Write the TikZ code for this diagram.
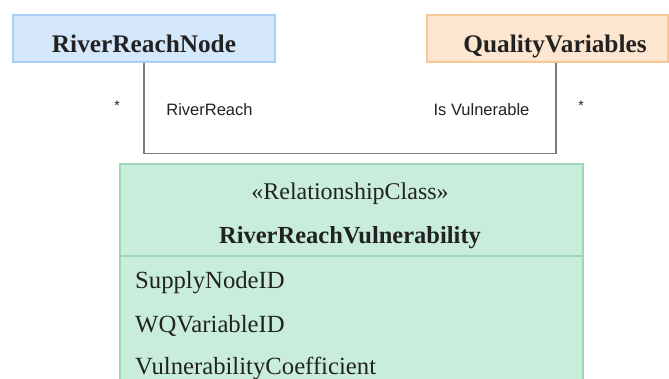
\documentclass[tikz,border=0pt]{standalone}
\usepackage{fontspec}
\newfontfamily\serf{Liberation Serif}
\newfontfamily\sanf{Liberation Sans}
\definecolor{bluefill}{HTML}{D5E7FB}
\definecolor{blueline}{HTML}{A9CDF3}
\definecolor{orfill}{HTML}{FDE6CF}
\definecolor{orline}{HTML}{F6C896}
\definecolor{grfill}{HTML}{C9EDDB}
\definecolor{grline}{HTML}{9FD6BA}
\definecolor{conn}{HTML}{7A7A7A}
\definecolor{ink}{HTML}{222222}
\begin{document}
\begin{tikzpicture}[x=1pt,y=-1pt,
  classbox/.style={draw, line width=1.4pt, inner sep=0pt},
  title/.style={font=\serf\bfseries\fontsize{24.5}{28}\selectfont, text=ink, anchor=base, inner sep=0pt},
  bigtitle/.style={title, font=\serf\bfseries\fontsize{25.3}{28}\selectfont},
  plain/.style={font=\serf\fontsize{24}{28}\selectfont, text=ink, anchor=base, inner sep=0pt},
  attr/.style={font=\serf\fontsize{24.7}{28}\selectfont, text=ink, anchor=base west, inner sep=0pt},
  lab/.style={font=\sanf\fontsize{16.5}{20}\selectfont, text=ink, anchor=base, inner sep=0pt},
  star/.style={font=\sanf\fontsize{14}{16}\selectfont, text=ink, inner sep=0pt},
  connector/.style={draw=conn, line width=1.4pt}]
\useasboundingbox (0,0) rectangle (669,378);
\begin{scope}
\clip (0,0) rectangle (669,378);
% green relationship class box
\node[classbox, draw=grline, fill=grfill, minimum width=463pt, minimum height=256pt] (rel) at (351.5,292) {};
\draw[draw=grline, line width=1.4pt] (rel.west |- 0,256) coordinate (dl) -- (rel.east |- 0,256) coordinate (dr);
\end{scope}
% blue and orange boxes
\node[classbox, draw=blueline, fill=bluefill, minimum width=262pt, minimum height=47pt] (rrn) at (144,38.5) {};
\node[classbox, draw=orline, fill=orfill, minimum width=241pt, minimum height=47pt] (qv) at (547.5,38.5) {};
\node[bigtitle] (rrnt) at (144,52) {RiverReachNode};
\node[bigtitle] (qvt) at (555,52) {QualityVariables};
% connector
\draw[connector] (rrn.south) -- ++(0,91) coordinate (bend) -| ([xshift=8.5pt]qv.south);
\node[lab] (l1) at (209.5,115) {RiverReach};
\node[lab] (l2) at (481.5,115) {Is Vulnerable};
\node[star] (s1) at (117,106) {*};
\node[star] (s2) at (581,106) {*};
% texts in green box
\node[plain] (st) at (350,199) {«RelationshipClass»};
\node[title] (rt) at (350,243) {RiverReachVulnerability};
\node[attr] (a1) at (135,288) {SupplyNodeID};
\node[attr] (a2) at (135,332) {WQVariableID};
\node[attr] (a3) at (135,374) {VulnerabilityCoefficient};
\end{tikzpicture}
\end{document}
